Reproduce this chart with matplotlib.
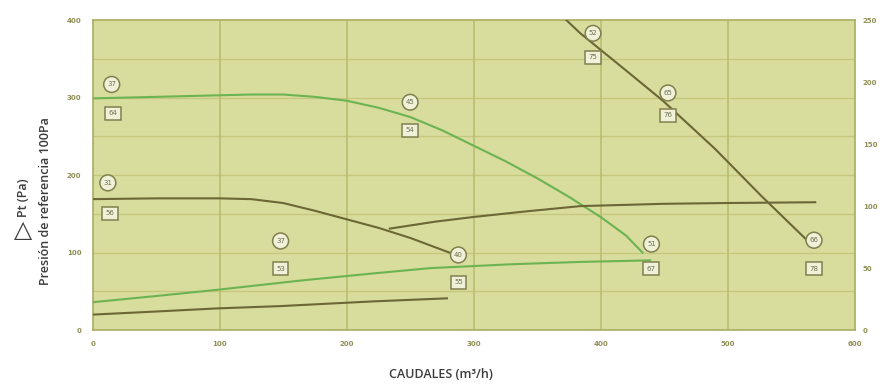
import matplotlib.pyplot as plt

# curve data (caudal m3/h, presion Pa)
green_top_x = [0, 25, 50, 75, 100, 125, 150, 175, 200, 225, 250, 275, 300,
               325, 350, 375, 400, 420, 433]
green_top_y = [299, 300, 301, 302, 303, 304, 304, 301, 296, 287, 275, 258, 238,
               218, 196, 172, 146, 122, 100]

dark_top_x = [0, 50, 100, 125, 150, 175, 200, 225, 250, 281]
dark_top_y = [169, 170, 170, 169, 164, 154, 143, 132, 119, 100]

dark_mid_x = [234, 270, 300, 340, 384, 450, 500, 569]
dark_mid_y = [131, 140, 146, 153, 160, 163, 164, 165]

dark_steep_x = [373, 384, 420, 449, 490, 526, 565]
dark_steep_y = [400, 383, 335, 296, 234, 174, 112]

green_low_x = [0, 50, 98, 164, 220, 266, 330, 384, 439]
green_low_y = [36, 44, 52, 64, 73, 80, 85, 88, 90]

dark_low_x = [0, 50, 98, 148, 220, 279]
dark_low_y = [20, 24, 28, 31, 37, 41]

# circle / square labels: (x, y, text)
circle_labels = [(15, 317, "37"), (12, 190, "31"), (148, 115, "37"),
                 (250, 294, "45"), (288, 97, "40"), (394, 383, "52"),
                 (453, 306, "65"), (440, 111, "51"), (568, 116, "66")]
square_labels = [(16, 280, "64"), (14, 151, "56"), (148, 79, "53"),
                 (250, 258, "54"), (288, 62, "55"), (394, 352, "75"),
                 (453, 277, "76"), (440, 79, "67"), (568, 79, "78")]

x_ticks = [0, 100, 200, 300, 400, 500, 600]
left_ticks = [0, 100, 200, 300, 400]
right_ticks = [0, 50, 100, 150, 200, 250]

bg = "#d8dc9c"
dark = "#6b6736"
green = "#6cb352"
tick_col = "#8f9055"

fig = plt.figure(figsize=(8.82, 3.87), dpi=100)
ax = fig.add_axes([0.105, 0.147, 0.864, 0.801])
ax.set_facecolor(bg)
ax.set_xlim(0, 600)
ax.set_ylim(0, 400)

# grid
for v in range(50, 400, 50):
    ax.axhline(v, color="#c6c77c", lw=0.9, zorder=1)
for v in x_ticks[1:-1]:
    ax.axvline(v, color="#b9bb6c", lw=1.1, zorder=1)

ax.plot(green_top_x, green_top_y, color=green, lw=1.5, zorder=3)
ax.plot(dark_top_x, dark_top_y, color=dark, lw=1.5, zorder=3)
ax.plot(dark_mid_x, dark_mid_y, color=dark, lw=1.5, zorder=3)
ax.plot(dark_steep_x, dark_steep_y, color=dark, lw=1.5, zorder=3)
ax.plot(green_low_x, green_low_y, color=green, lw=1.5, zorder=3)
ax.plot(dark_low_x, dark_low_y, color=dark, lw=1.5, zorder=3)

for x, y, t in circle_labels:
    ax.text(x, y, t, fontsize=5, color="#6e6e50", ha="center", va="center", zorder=5,
            bbox=dict(boxstyle="circle,pad=0.5", fc="#f1f1da", ec="#80804e", lw=1.1))
for x, y, t in square_labels:
    ax.text(x, y, t, fontsize=5, color="#6e6e50", ha="center", va="center", zorder=5,
            bbox=dict(boxstyle="square,pad=0.5", fc="#f1f1da", ec="#80804e", lw=1.1))

for s in ax.spines.values():
    s.set_color("#a9ad62")
    s.set_linewidth(1.2)

ax.set_xticks(x_ticks)
ax.set_yticks(left_ticks)
ax.tick_params(length=0, labelsize=5, labelcolor=tick_col, pad=8)
for lab in ax.get_xticklabels() + ax.get_yticklabels():
    lab.set_fontweight("bold")

ax2 = ax.twinx()
ax2.set_ylim(0, 250)
ax2.set_yticks(right_ticks)
ax2.tick_params(length=0, labelsize=5, labelcolor=tick_col, pad=6)
for lab in ax2.get_yticklabels():
    lab.set_fontweight("bold")
for s in ax2.spines.values():
    s.set_visible(False)

font = ["Open Sans", "DejaVu Sans"]
fig.text(0.5, 0.015, "CAUDALES (m³/h)", ha="center", va="bottom",
         fontsize=9, color="#3c3c3c", family=font, fontweight="semibold")
fig.text(0.026, 0.405, "△", fontsize=17, color="#3c3c3c", ha="center", va="center")
fig.text(0.027, 0.49, "Pt (Pa)", fontsize=9, color="#3c3c3c", ha="center",
         va="center", rotation=90, family=font, fontweight="semibold")
fig.text(0.052, 0.48, "Presión de referencia 100Pa", fontsize=9, color="#3c3c3c",
         ha="center", va="center", rotation=90, family=font, fontweight="semibold")

plt.savefig("out.png", dpi=100)
